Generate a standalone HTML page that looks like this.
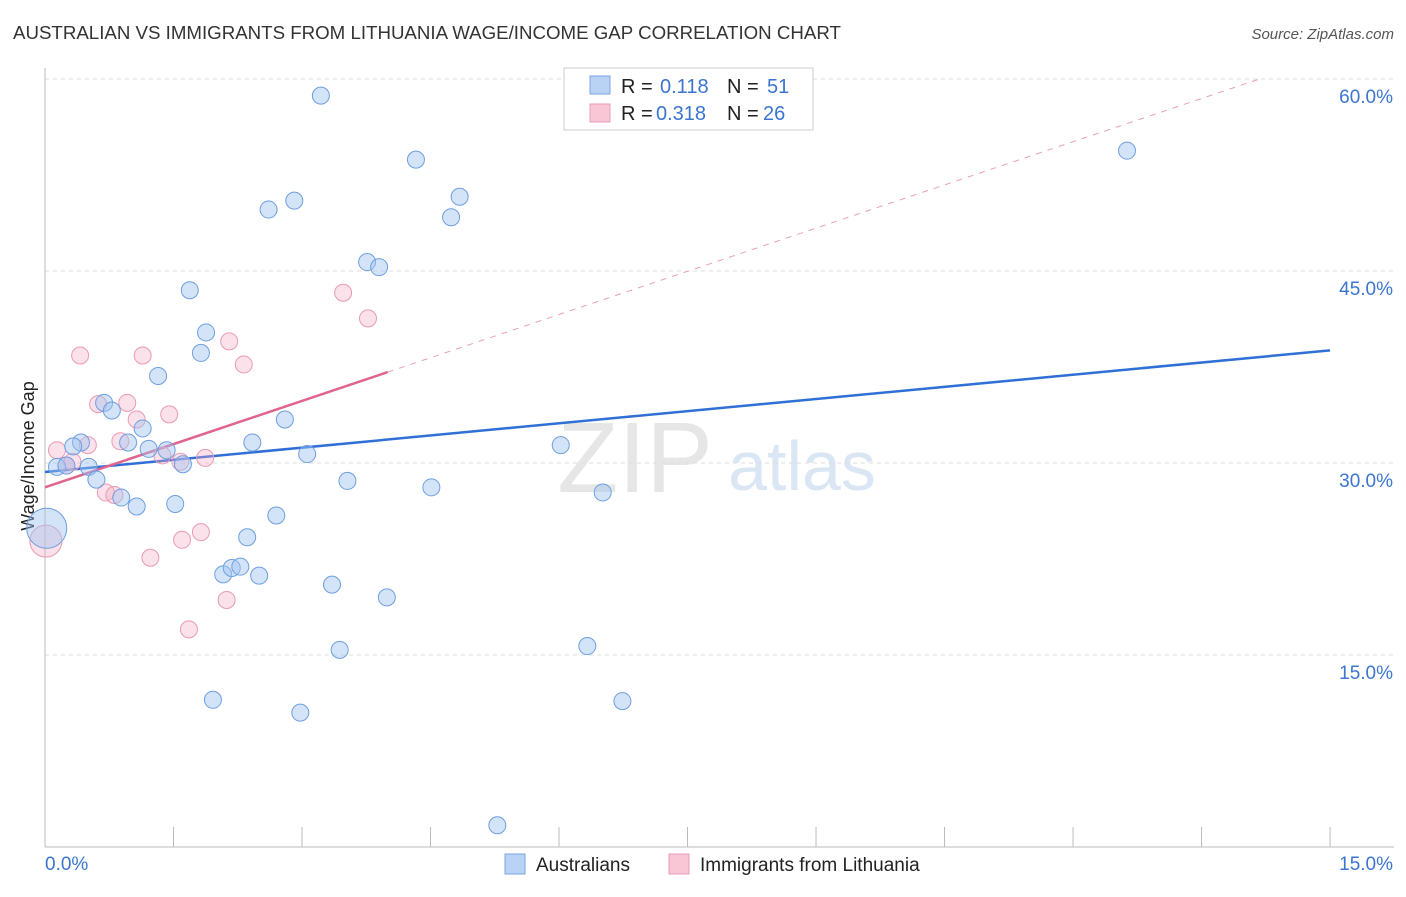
<!DOCTYPE html>
<html><head><meta charset="utf-8"><style>
body{margin:0;background:#fff;font-family:"Liberation Sans",sans-serif;}
svg text{font-family:"Liberation Sans",sans-serif;}
</style></head><body>
<svg id="c" width="1406" height="892" xmlns="http://www.w3.org/2000/svg">
<text x="13" y="39" font-size="18.7" fill="#333">AUSTRALIAN VS IMMIGRANTS FROM LITHUANIA WAGE/INCOME GAP CORRELATION CHART</text>
<text x="1394" y="39" font-size="15" fill="#555" font-style="italic" text-anchor="end">Source: ZipAtlas.com</text>
<text x="28" y="456" font-size="18" fill="#222" text-anchor="middle" dominant-baseline="central" transform="rotate(-90 28 456)">Wage/Income Gap</text>
<g><text x="635" y="492" font-size="100" fill="#e6e6e6" font-family="Liberation Serif" text-anchor="middle">ZIP</text><text x="802" y="490" font-size="70" fill="#dbe6f5" text-anchor="middle">atlas</text></g>
<g id="grid"></g><g id="axes"></g><g id="trend"></g><g id="pts"></g>
<g>
<rect x="564" y="68" width="249" height="62" fill="#fff" stroke="#ccc"/>
<rect x="590" y="76" width="20" height="18" fill="#b9d3f5" stroke="#7aa6e0"/>
<rect x="590" y="104" width="20" height="18" fill="#f9c6d6" stroke="#eb9ab3"/>
<text x="621" y="93" font-size="20" fill="#222">R = </text><text x="660" y="93" font-size="20" fill="#3b75d0">0.118</text>
<text x="727" y="93" font-size="20" fill="#222">N = </text><text x="767" y="93" font-size="20" fill="#3b75d0">51</text>
<text x="621" y="120" font-size="20" fill="#222">R = </text><text x="656" y="120" font-size="20" fill="#3b75d0">0.318</text>
<text x="727" y="120" font-size="20" fill="#222">N = </text><text x="763" y="120" font-size="20" fill="#3b75d0">26</text>
</g>
<g>
<rect x="505" y="854" width="20" height="20" fill="#b9d3f5" stroke="#7aa6e0"/>
<text x="536" y="871" font-size="19" fill="#222">Australians</text>
<rect x="669" y="854" width="20" height="20" fill="#f9c6d6" stroke="#eb9ab3"/>
<text x="700" y="871" font-size="19" fill="#222">Immigrants from Lithuania</text>
</g>
</svg>
<script>
const yTicks=[15,30,45,60];
const xTickLabels=["0.0%","15.0%"];
const blueX=[3.22,4.33,12.63,2.61,2.91,4.84,4.74,3.76,3.90,1.69,1.88,1.82,1.32,0.69,0.78,2.80,1.14,0.42,0.33,0.97,1.21,1.42,1.61,2.42,3.06,6.02,0.14,0.25,0.51,0.60,3.53,4.51,6.51,0.89,1.07,1.52,2.70,2.36,2.08,2.18,2.28,2.50,3.35,3.99,3.44,6.33,1.96,6.74,2.98,5.28,0.02];
const blueY=[58.7,53.7,54.4,49.8,50.5,50.8,49.2,45.7,45.3,43.5,40.2,38.6,36.8,34.7,34.1,33.4,32.7,31.6,31.3,31.6,31.1,31.0,29.9,31.6,30.7,31.4,29.7,29.8,29.7,28.7,28.6,28.1,27.7,27.3,26.6,26.8,25.9,24.2,21.3,21.8,21.9,21.2,20.5,19.5,15.4,15.7,11.5,11.4,10.5,1.7,24.9];
const pinkX=[0.41,1.14,2.15,2.32,3.48,3.77,0.62,0.96,1.07,1.45,0.88,0.50,0.14,0.25,1.37,1.58,1.87,0.71,0.81,1.82,1.60,1.23,2.12,1.68,0.01,0.32];
const pinkY=[38.4,38.4,39.5,37.7,43.3,41.3,34.6,34.7,33.4,33.8,31.7,31.4,31.0,29.8,30.6,30.1,30.4,27.7,27.5,24.6,24.0,22.6,19.3,17.0,23.9,30.1];
const blueTrend=[29.3,38.8];
const pinkTrend=[28.1,37.1];
const NS='http://www.w3.org/2000/svg';
const sx=v=>45+v*85.67, sy=v=>847-v*12.8;
function mk(p,t,a){const e=document.createElementNS(NS,t);for(const k in a)e.setAttribute(k,a[k]);p.appendChild(e);return e;}
const grid=document.getElementById('grid'),axes=document.getElementById('axes');
yTicks.forEach(t=>{const l=mk(grid,'line',{x1:45,x2:1394,y1:sy(t),y2:sy(t),stroke:'#ddd','stroke-dasharray':'4,4'});


const tx=mk(grid,'text',{x:1393,y:sy(t)+24,'font-size':19,fill:'#3b75d0','text-anchor':'end'});tx.textContent=t.toFixed(1)+'%';

});
mk(axes,'line',{x1:45,x2:45,y1:68,y2:847,stroke:'#bbb'});
mk(axes,'line',{x1:45,x2:1394,y1:847,y2:847,stroke:'#bbb'});
for(let i=0;i<=10;i++){mk(axes,'line',{x1:sx(i*1.5),x2:sx(i*1.5),y1:827,y2:847,stroke:'#bbb'});}
const xl0=mk(axes,'text',{x:45,y:870,'font-size':19,fill:'#3b75d0'});xl0.textContent=xTickLabels[0];


const xl1=mk(axes,'text',{x:1393,y:870,'font-size':19,fill:'#3b75d0','text-anchor':'end'});xl1.textContent=xTickLabels[1];


const tr=document.getElementById('trend');
const ps=(pinkTrend[1]-pinkTrend[0])/4;
const xe=(60-pinkTrend[0])/ps;
const pd=mk(tr,'line',{x1:sx(4),y1:sy(pinkTrend[1]),x2:sx(xe),y2:sy(60),stroke:'#e8a0b8','stroke-dasharray':'6,6','stroke-width':1});


const bt=mk(tr,'line',{x1:sx(0),y1:sy(blueTrend[0]),x2:sx(15),y2:sy(blueTrend[1]),stroke:'#2f6fd6','stroke-width':2.5});


const pt=mk(tr,'line',{x1:sx(0),y1:sy(pinkTrend[0]),x2:sx(4),y2:sy(pinkTrend[1]),stroke:'#e0648f','stroke-width':2.5});


const pg=document.getElementById('pts');
pinkX.forEach((x,i)=>{const c=mk(pg,'circle',{cx:sx(x),cy:sy(pinkY[i]),r:i==24?16:8.5,fill:'rgba(244,170,195,0.35)',stroke:'#eb9ab3','stroke-width':1});

});
blueX.forEach((x,i)=>{const c=mk(pg,'circle',{cx:sx(x),cy:sy(blueY[i]),r:i==50?20:8.5,fill:'rgba(160,195,240,0.45)',stroke:'#6e9fe0','stroke-width':1});

});
</script>
</body></html>
